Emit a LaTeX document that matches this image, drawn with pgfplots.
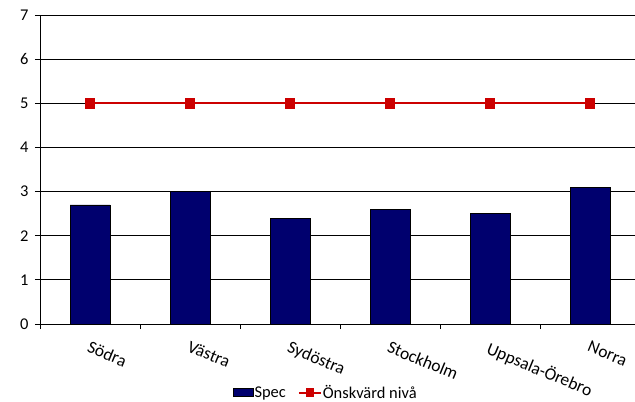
\documentclass[border=0pt]{standalone}
\usepackage{pgfplots}
\pgfplotsset{compat=1.18}
\usepackage{fontspec}
\setmainfont{Carlito}
\definecolor{barnavy}{RGB}{0,0,110}
\definecolor{levelred}{RGB}{204,0,0}

% legend glyphs: a filled box for the bars, a short marked line for the level
\pgfplotsset{
  boxlegend/.style={legend image code/.code={\draw[##1] (0bp,-4bp) rectangle (20bp,4bp);}},
  linelegend/.style={legend image code/.code={\draw[##1, mark repeat=2, mark phase=2, mark size=3.2bp]
    plot coordinates {(0bp,0bp) (11bp,0bp) (22bp,0bp)};}},
}

\begin{document}
\begin{tikzpicture}
\begin{axis}[
  at={(0,0)}, anchor=south west,
  width=595bp, height=309bp, scale only axis,
  xmin=-0.5, xmax=5.45, ymin=0, ymax=7,
  axis x line=bottom, axis y line=left,
  axis line style={-, black, line width=0.8bp},
  ytick={0,...,7}, ymajorgrids,
  grid style={black, line width=0.8bp},
  tick align=outside, major tick length=5bp,
  tick style={black, line width=0.8bp},
  /pgf/number format/assume math mode=true,
  every tick label/.append style={font=\fontsize{16.5}{19}\selectfont},
  yticklabel style={xshift=-3bp},
  % category boundaries carry the ticks, names sit at the centres
  xtick={-0.5,0.5,1.5,2.5,3.5,4.5}, xticklabels={},
  extra x ticks={0,1,2,3,4,5},
  extra x tick labels={Södra,Västra,Sydöstra,Stockholm,Uppsala-Örebro,Norra},
  extra x tick style={major tick length=0pt,
    tick label style={font=\fontsize{17.5}{20}\selectfont,
      yshift=-12bp, xshift=-1bp, rotate=-22.5, anchor=north west}},
  legend style={at={(0.4795,-0.222)}, anchor=center, draw=none, fill=none,
    legend columns=2, font=\fontsize{16.5}{19}\selectfont,
    inner sep=0pt, nodes={inner xsep=1bp, inner ysep=1bp},
    /tikz/every even column/.append style={column sep=11bp}},
  legend cell align=left,
]
\addplot[ybar, bar width=40bp, fill=barnavy, draw=black, line width=0.6bp, boxlegend]
  coordinates {(0,2.7) (1,3.0) (2,2.4) (3,2.6) (4,2.5) (5,3.1)};
\addlegendentry{Spec}
\addplot[levelred, line width=2bp, mark=square*, mark size=4.3bp,
  mark options={solid, fill=levelred}, linelegend]
  coordinates {(0,5) (1,5) (2,5) (3,5) (4,5) (5,5)};
\addlegendentry{Önskvärd nivå}
\end{axis}
\pgfresetboundingbox
\useasboundingbox (-40bp,-78bp) rectangle (595bp,324bp);
\end{tikzpicture}
\end{document}
